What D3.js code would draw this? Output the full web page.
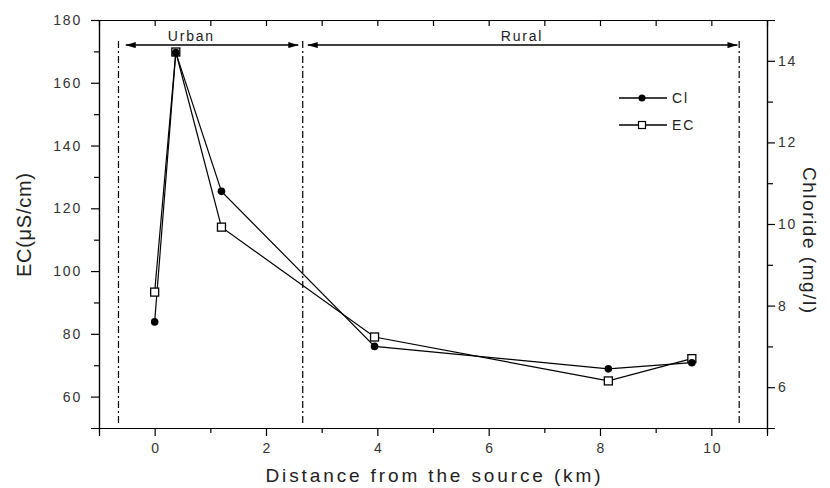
<!DOCTYPE html>
<html>
<head>
<meta charset="utf-8">
<script src="https://cdn.jsdelivr.net/npm/d3@7"></script>
<style>
  body { margin: 0; background: #fff; }
  svg { display: block; font-family: Arial, "Liberation Sans", sans-serif; }
</style>
</head>
<body>
<div id="chart"></div>
<script>
// distance from the source (km)
const distance = [0, 0.38, 1.2, 3.95, 8.15, 9.65];
// chloride (mg/l), right axis
const clValues = [7.6, 14.2, 10.8, 7.0, 6.45, 6.6];
// electrical conductivity (uS/cm), left axis
const ecValues = [93.3, 169.8, 114.0, 79.0, 65.0, 72.1];

const xTicks = [0, 2, 4, 6, 8, 10];
const ecTicks = [60, 80, 100, 120, 140, 160, 180];
const clTicks = [6, 8, 10, 12, 14];

// zones along the river
const regionNames = ["Urban", "Rural"];
const regionFrom = [-0.52, 2.75];
const regionTo = [2.58, 10.47];
const regionLabelAt = [0.66, 6.6];
const boundaries = [-0.65, 2.66, 10.5];

const W = 830, H = 488;
const plotL = 99, plotR = 767, plotT = 20, plotB = 428;

const svg = d3.select("#chart").append("svg")
  .attr("width", W).attr("height", H);

const x = d3.scaleLinear().domain([-1, 11]).range([plotL, plotR]);
const yEC = d3.scaleLinear().domain([50, 180]).range([plotB, plotT]);
const yCl = d3.scaleLinear().domain([5, 15]).range([plotB, plotT]);

// arrow head
svg.append("defs").append("marker")
  .attr("id", "arrow")
  .attr("viewBox", "0 0 10 6")
  .attr("refX", 10).attr("refY", 3)
  .attr("markerWidth", 10).attr("markerHeight", 6)
  .attr("markerUnits", "userSpaceOnUse")
  .attr("orient", "auto-start-reverse")
  .append("path").attr("d", "M0,0L10,3L0,6Z").attr("fill", "#000");

function styleAxis(g, fs) {
  g.select(".domain").attr("stroke", "#000").attr("stroke-width", 1.2);
  g.selectAll(".tick line").attr("stroke", "#000").attr("stroke-width", 1.2);
  g.selectAll(".tick text")
    .attr("fill", "#333")
    .style("font-size", fs + "px")
    .style("letter-spacing", "1.8px")
    .style("font-family", "Arial, 'Liberation Sans', sans-serif");
}

// bottom axis
const odd = d3.range(-1, 12, 2);
svg.append("g").attr("transform", `translate(0,${plotB})`)
  .call(d3.axisBottom(x).tickValues(odd.slice(1, -1)).tickSize(5).tickFormat(""))
  .call(styleAxis, 14);
svg.append("g").attr("transform", `translate(0,${plotB})`)
  .call(d3.axisBottom(x).tickValues(xTicks).tickSize(8).tickPadding(7))
  .call(styleAxis, 14)
  .selectAll(".tick text").attr("dx", "0.9px");

// top axis, ticks inside
svg.append("g").attr("transform", `translate(0,${plotT})`)
  .call(d3.axisTop(x).tickValues(d3.range(0, 11)).tickSize(-6).tickFormat(""))
  .call(styleAxis, 14);

// left axis (EC)
svg.append("g").attr("transform", `translate(${plotL},0)`)
  .call(d3.axisLeft(yEC).tickValues([70, 90, 110, 130, 150, 170]).tickSize(5).tickFormat(""))
  .call(styleAxis, 14);
svg.append("g").attr("transform", `translate(${plotL},0)`)
  .call(d3.axisLeft(yEC).tickValues(ecTicks).tickSize(8).tickPadding(9))
  .call(styleAxis, 14);

// right axis (chloride)
svg.append("g").attr("transform", `translate(${plotR},0)`)
  .call(d3.axisRight(yCl).tickValues([7, 9, 11, 13]).tickSize(6).tickFormat(""))
  .call(styleAxis, 14);
svg.append("g").attr("transform", `translate(${plotR},0)`)
  .call(d3.axisRight(yCl).tickValues(clTicks).tickSize(8).tickPadding(3))
  .call(styleAxis, 14);

// zone boundaries
svg.selectAll("line.boundary").data(boundaries).enter().append("line")
  .attr("class", "boundary")
  .attr("x1", d => x(d)).attr("x2", d => x(d))
  .attr("y1", yEC(173.3)).attr("y2", yEC(51))
  .attr("stroke", "#000").attr("stroke-width", 1.2)
  .attr("stroke-dasharray", "7,3,2,3");

// zone arrows and names
regionNames.forEach((name, i) => {
  svg.append("line")
    .attr("x1", x(regionFrom[i])).attr("x2", x(regionTo[i]))
    .attr("y1", yEC(172)).attr("y2", yEC(172))
    .attr("stroke", "#000").attr("stroke-width", 1.5)
    .attr("marker-start", "url(#arrow)").attr("marker-end", "url(#arrow)");
  svg.append("text")
    .attr("x", x(regionLabelAt[i])).attr("y", yEC(173.2))
    .attr("text-anchor", "middle")
    .attr("fill", "#222")
    .style("font-size", "14px").style("letter-spacing", "1.8px")
    .text(name);
});

// series
const ecPts = distance.map((d, i) => [x(d), yEC(ecValues[i])]);
const clPts = distance.map((d, i) => [x(d), yCl(clValues[i])]);
const line = d3.line();

svg.append("path").attr("d", line(ecPts))
  .attr("fill", "none").attr("stroke", "#000").attr("stroke-width", 1.2);
svg.append("path").attr("d", line(clPts))
  .attr("fill", "none").attr("stroke", "#000").attr("stroke-width", 1.2);

svg.selectAll("rect.ec").data(ecPts).enter().append("rect")
  .attr("class", "ec")
  .attr("x", d => d[0] - 4).attr("y", d => d[1] - 4)
  .attr("width", 8).attr("height", 8)
  .attr("fill", "#fff").attr("stroke", "#000").attr("stroke-width", 1.3);
svg.selectAll("circle.cl").data(clPts).enter().append("circle")
  .attr("class", "cl")
  .attr("cx", d => d[0]).attr("cy", d => d[1]).attr("r", 3.8)
  .attr("fill", "#000");

// legend
const legend = [
  { name: "Cl", kind: "circle", y: 98 },
  { name: "EC", kind: "square", y: 125 }
];
legend.forEach(item => {
  const g = svg.append("g").attr("transform", `translate(619,${item.y})`);
  g.append("line").attr("x1", 0).attr("x2", 48).attr("y1", 0).attr("y2", 0)
    .attr("stroke", "#000").attr("stroke-width", 1.3);
  if (item.kind === "circle") {
    g.append("circle").attr("cx", 23).attr("cy", 0).attr("r", 3.5).attr("fill", "#000");
  } else {
    g.append("rect").attr("x", 19.5).attr("y", -3.5).attr("width", 7).attr("height", 7)
      .attr("fill", "#fff").attr("stroke", "#000").attr("stroke-width", 1.2);
  }
  g.append("text").attr("x", 53).attr("y", 5)
    .attr("fill", "#222")
    .style("font-size", "14px").style("letter-spacing", "1.8px")
    .text(item.name);
});

// axis titles
svg.append("text")
  .attr("x", 433).attr("y", 482)
  .attr("text-anchor", "middle")
  .attr("textLength", 335).attr("lengthAdjust", "spacing")
  .attr("fill", "#222").style("font-size", "19px")
  .text("Distance from the source (km)");

svg.append("text")
  .attr("transform", "translate(31,225) rotate(-90)")
  .attr("text-anchor", "middle")
  .attr("textLength", 104).attr("lengthAdjust", "spacing")
  .attr("fill", "#222").style("font-size", "20px")
  .text("EC(μS/cm)");

svg.append("text")
  .attr("transform", "translate(803,240) rotate(90)")
  .attr("text-anchor", "middle")
  .attr("textLength", 146).attr("lengthAdjust", "spacing")
  .attr("fill", "#222").style("font-size", "19px")
  .text("Chloride (mg/l)");
</script>
</body>
</html>
